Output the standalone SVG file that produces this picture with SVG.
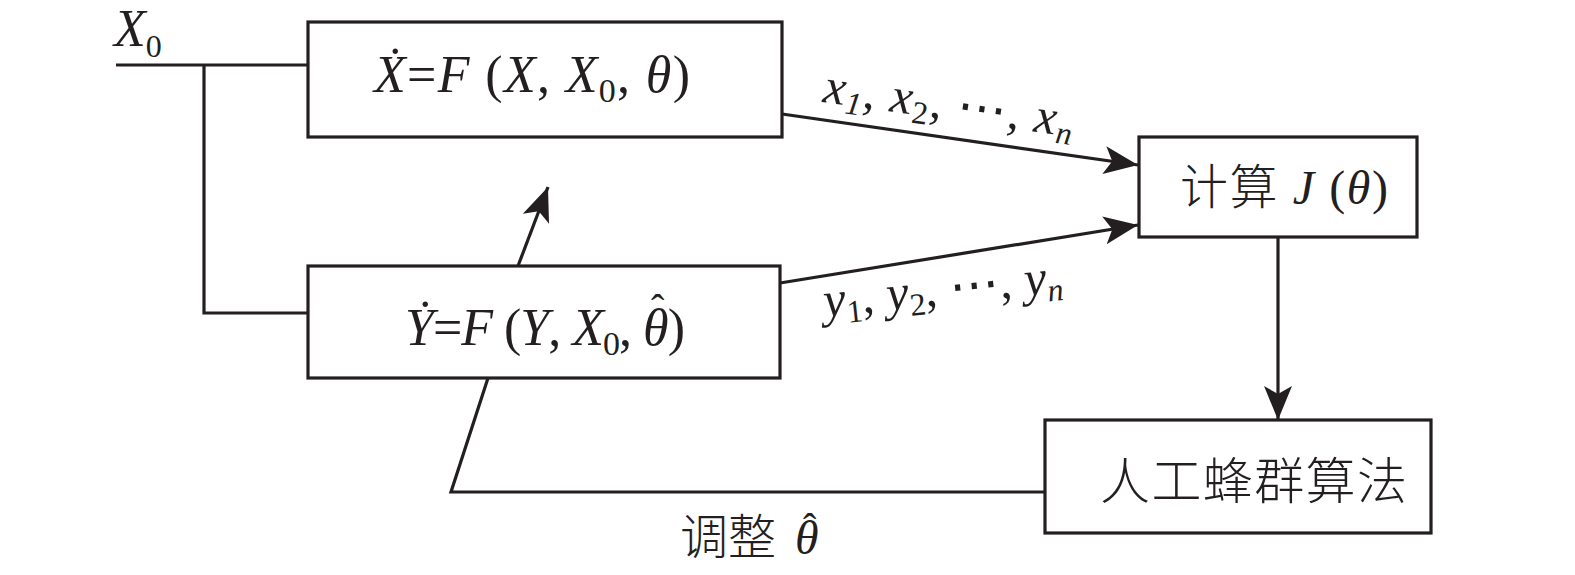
<svg xmlns="http://www.w3.org/2000/svg" width="1575" height="575" viewBox="0 0 1575 575">
<style>
.box{fill:#fff;stroke:#231f20;stroke-width:3.2}
.ln{fill:none;stroke:#231f20;stroke-width:3.2}
.m{font-family:"Liberation Serif","Times New Roman",serif;fill:#231f20}
.i{font-style:italic}
.cjk{font-family:"Liberation Serif","Noto Sans CJK SC",serif;fill:#231f20;font-weight:300}
</style>
<defs>
<marker id="ah" markerUnits="userSpaceOnUse" markerWidth="36" markerHeight="32" viewBox="0 0 36 32" refX="34" refY="16" orient="auto">
<path d="M0,2 L34,16 L0,30 L8,16 Z" fill="#231f20"/>
</marker>
</defs>
<g id="connectors">
<path class="ln" d="M116,65 H308"/>
<path class="ln" d="M204,65 V313 H308"/>
<path class="ln" d="M782,114 L1138,165" marker-end="url(#ah)"/>
<path class="ln" d="M780,283 L1138,225" marker-end="url(#ah)"/>
<path class="ln" d="M518,266 L548,187" marker-end="url(#ah)"/>
<path class="ln" d="M1278,237 V420" marker-end="url(#ah)"/>
<path class="ln" d="M1045,492 H451 L488,378"/>
</g>
<g id="label-x0">
<text class="m i" x="114" y="46" font-size="52">X<tspan font-style="normal" font-size="32" dy="11">0</tspan></text>
</g>
<g id="node-model">
<rect class="box" x="308" y="22" width="474" height="115"/>
<text class="m" x="374" y="92" font-size="52" textLength="316" lengthAdjust="spacing"><tspan class="i">X&#x307;</tspan>=<tspan class="i">F</tspan> (<tspan class="i">X</tspan>, <tspan class="i">X</tspan><tspan font-size="34" dy="10">0</tspan><tspan dy="-10">, </tspan><tspan class="i">θ</tspan>)</text>
</g>
<g id="node-estimate">
<rect class="box" x="308" y="266" width="472" height="112"/>
<text class="m" x="404" y="345" font-size="52" textLength="280" lengthAdjust="spacing"><tspan class="i">Y&#x307;</tspan>=<tspan class="i">F</tspan> (<tspan class="i">Y</tspan>, <tspan class="i">X</tspan><tspan font-size="34" dy="10">0</tspan><tspan dy="-10">, </tspan><tspan class="i">θ</tspan>)</text>
<text class="m" x="651" y="322" font-size="40">ˆ</text>
</g>
<g id="node-cost">
<rect class="box" x="1139" y="137" width="278" height="100"/>
<text x="1180" y="204" font-size="48" textLength="208" lengthAdjust="spacing"><tspan class="cjk">计算 </tspan><tspan class="m i">J</tspan><tspan class="m"> (</tspan><tspan class="m i">θ</tspan><tspan class="m">)</tspan></text>
</g>
<g id="node-abc">
<rect class="box" x="1045" y="420" width="386" height="113"/>
<text class="cjk" x="1100" y="499" font-size="50" textLength="307" lengthAdjust="spacing">人工蜂群算法</text>
</g>
<g id="label-xs">
<text class="m" transform="translate(822,102) rotate(8)" font-size="50" textLength="252" lengthAdjust="spacing"><tspan class="i">x</tspan><tspan class="i" font-size="32" dy="8">1</tspan><tspan dy="-8">, </tspan><tspan class="i">x</tspan><tspan font-size="32" dy="8">2</tspan><tspan dy="-8">, ⋯, </tspan><tspan class="i">x</tspan><tspan class="i" font-size="32" dy="8">n</tspan></text>
</g>
<g id="label-ys">
<text class="m" transform="translate(825,317) rotate(-6)" font-size="50" textLength="240" lengthAdjust="spacing"><tspan class="i">y</tspan><tspan font-size="32" dy="8">1</tspan><tspan dy="-8">, </tspan><tspan class="i">y</tspan><tspan font-size="32" dy="8">2</tspan><tspan dy="-8">, ⋯, </tspan><tspan class="i">y</tspan><tspan class="i" font-size="32" dy="8">n</tspan></text>
</g>
<g id="label-adjust">
<text y="554" font-size="48"><tspan class="cjk" x="680">调整</tspan><tspan class="m i" x="795">θ</tspan><tspan class="m" font-size="40" x="803" y="541">ˆ</tspan></text>
</g>
</svg>
